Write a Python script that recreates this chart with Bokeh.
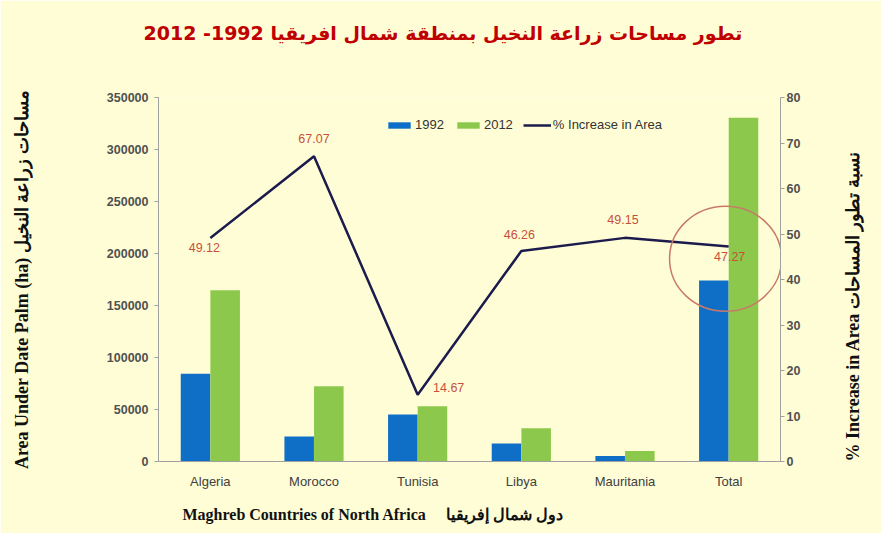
import math
from bokeh.plotting import figure
from bokeh.models import (FactorRange, Range1d, LinearAxis, ColumnDataSource, Title,
                          Legend, LegendItem, FixedTicker, NumeralTickFormatter)
from bokeh.transform import dodge
from bokeh.core.properties import value
from bokeh.embed import file_html
from bokeh.resources import INLINE

# ---------------- data ----------------
countries = ["Algeria", "Morocco", "Tunisia", "Libya", "Mauritania", "Total"]
area_1992 = [84300, 24000, 45200, 17200, 5200, 174000]
area_2012 = [164700, 72400, 53200, 32000, 10200, 330500]
pct_increase = [49.12, 67.07, 14.67, 46.26, 49.15, 47.27]
pct_labels = ["49.12", "67.07", "14.67", "46.26", "49.15", "47.27"]
left_ticks = [0, 50000, 100000, 150000, 200000, 250000, 300000, 350000]
right_ticks = [0, 10, 20, 30, 40, 50, 60, 70, 80]

title_text = "تطور مساحات زراعة النخيل بمنطقة شمال افريقيا 1992- 2012"
left_title = "Area Under Date Palm (ha) مساحات زراعة النخيل"
right_title = "% Increase in Area نسبة تطور المساحات"
x_title = "Maghreb Countries of North Africa" + "\u00a0" * 5 + "دول شمال إفريقيا"

# label placement (screen px) for the percentage labels
lab_dx = [-6, 0, 31, -2, -2, 1]
lab_dy = [9, -18, -7, -17, -18, 10]

BG = "#FFFDD6"
BLUE = "#0F6FC6"
GREEN = "#8CC84B"
NAVY = "#1B1B4D"
LABRED = "#C8503A"

src = ColumnDataSource(dict(cat=countries, a92=area_1992, a12=area_2012,
                            pct=pct_increase, lab=pct_labels, dx=lab_dx, dy=lab_dy))

p = figure(width=881, height=533, x_range=FactorRange(*countries),
           y_range=Range1d(0, 350000), output_backend="svg", toolbar_location=None,
           min_border_left=158, min_border_right=101, min_border_top=97, min_border_bottom=72)
p.extra_y_ranges = {"pct": Range1d(0, 80)}
p.background_fill_color = BG
p.border_fill_color = BG
p.outline_line_color = None
p.xgrid.visible = False
p.ygrid.visible = False

r92 = p.vbar(x=dodge("cat", -0.143, range=p.x_range), top="a92", width=0.285,
             source=src, fill_color=BLUE, line_color=None)
r12 = p.vbar(x=dodge("cat", 0.143, range=p.x_range), top="a12", width=0.285,
             source=src, fill_color=GREEN, line_color=None)
rl = p.line(x="cat", y="pct", source=src, y_range_name="pct", line_color=NAVY, line_width=2.5)
p.text(x="cat", y="pct", text="lab", source=src, y_range_name="pct",
       x_offset="dx", y_offset="dy", text_align="center", text_baseline="middle",
       text_font=value("Liberation Sans"), text_font_size="12.5px", text_color=LABRED)

# highlight ring around the Total point
p.ellipse(x=dodge("cat", -0.03, range=p.x_range), y=dodge("pct", -2.7),
          width=112, height=105, width_units="screen", height_units="screen",
          source=ColumnDataSource(dict(cat=[countries[-1]], pct=[pct_increase[-1]])),
          y_range_name="pct", fill_color=None, line_color="#C87A68", line_width=1.5)

# axes styling
AX = "#A0A0A0"
xa = p.xaxis[0]
xa.axis_line_color = AX
xa.major_tick_line_color = None
xa.minor_tick_line_color = None
xa.major_label_text_font = "Liberation Sans"
xa.major_label_text_font_size = "13px"
xa.major_label_text_color = "#404040"
xa.major_label_standoff = 6
xa.axis_label = "\u00a0"
xa.axis_label_text_font_size = "1px"
xa.axis_label_standoff = 3

ya = p.yaxis[0]
ya.ticker = FixedTicker(ticks=left_ticks)
ya.formatter = NumeralTickFormatter(format="0")
ya.axis_line_color = AX
ya.major_tick_line_color = AX
ya.major_tick_in = 0
ya.major_tick_out = 4
ya.minor_tick_line_color = None
ya.major_label_text_font = "Liberation Sans"
ya.major_label_text_font_style = "bold"
ya.major_label_text_font_size = "12.5px"
ya.major_label_text_color = "#505050"
ya.major_label_standoff = 6
ya.axis_label = left_title
ya.axis_label_text_font = "Liberation Serif"
ya.axis_label_text_font_style = "bold"
ya.axis_label_text_font_size = "18px"
ya.axis_label_text_color = "#111111"
ya.axis_label_standoff = 72

ra = LinearAxis(y_range_name="pct", ticker=FixedTicker(ticks=right_ticks))
ra.axis_line_color = AX
ra.major_tick_line_color = AX
ra.major_tick_in = 0
ra.major_tick_out = 4
ra.minor_tick_line_color = None
ra.major_label_text_font = "Liberation Sans"
ra.major_label_text_font_style = "bold"
ra.major_label_text_font_size = "12.5px"
ra.major_label_text_color = "#505050"
ra.major_label_standoff = 2
ra.axis_label = right_title
ra.axis_label_orientation = math.pi / 2
ra.axis_label_align = "start"
ra.axis_label_text_font = "Liberation Serif"
ra.axis_label_text_font_style = "bold"
ra.axis_label_text_font_size = "18px"
ra.axis_label_text_color = "#111111"
ra.axis_label_standoff = 50
p.add_layout(ra, "right")

# x axis title (below the category labels)
p.add_layout(Title(text=x_title, align="left", offset=24,
                   text_font="Liberation Serif", text_font_style="bold",
                   text_font_size="16px", text_color="#111111"), "below")

# chart title, with a spacer between it and the frame
p.add_layout(Title(text=" ", text_font_size="33px"), "above")
p.add_layout(Title(text=title_text, align="left", offset=-15,
                   text_font="DejaVu Sans", text_font_style="bold",
                   text_font_size="19px", text_color="#C00000"), "above")

legend = Legend(items=[LegendItem(label="1992", renderers=[r92]),
                       LegendItem(label="2012", renderers=[r12]),
                       LegendItem(label="% Increase in Area", renderers=[rl])],
                orientation="horizontal", location=(227, 329),
                background_fill_alpha=0, border_line_color=None,
                padding=0, margin=0, spacing=10, label_standoff=2,
                glyph_width=28, glyph_height=8, label_height=12,
                label_text_font="Liberation Sans", label_text_font_size="13px",
                label_text_color="#333333")
p.add_layout(legend, "center")

open("out.html", "w").write(file_html(p, INLINE))
